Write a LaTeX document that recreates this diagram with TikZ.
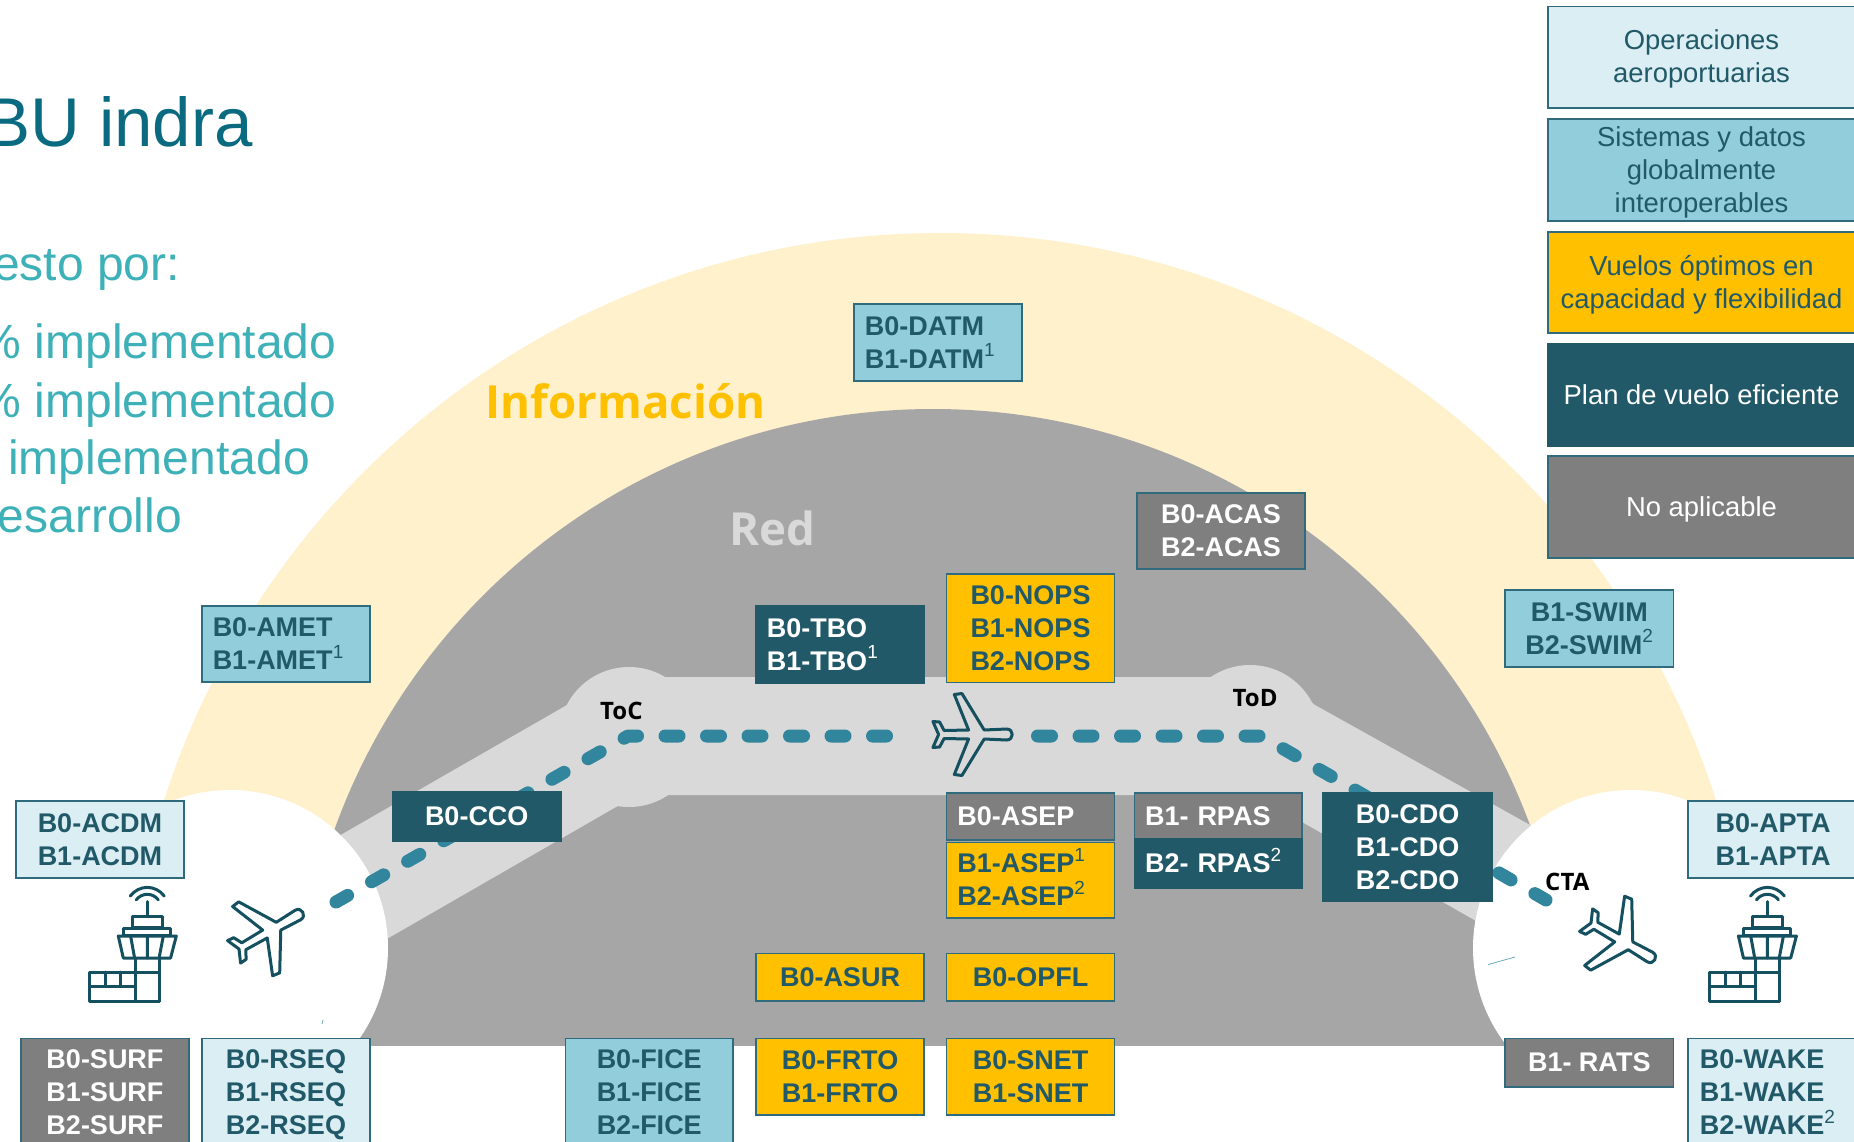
\documentclass[tikz,border=0pt]{standalone}
\usepackage{fontspec}
\setmainfont{Liberation Sans}
\newfontfamily\ofont{Open Sans}
\definecolor{cLight}{HTML}{DAEEF3}
\definecolor{cMid}{HTML}{92CDDC}
\definecolor{cAmber}{HTML}{FFC000}
\definecolor{cDark}{HTML}{215968}
\definecolor{cGray}{HTML}{7F7F7F}
\definecolor{cEdge}{HTML}{2F6B7C}
\definecolor{cYellowBg}{HTML}{FFF1CC}
\definecolor{cNet}{HTML}{A6A6A6}
\definecolor{cBand}{HTML}{D9D9D9}
\definecolor{cDash}{HTML}{31859C}
\definecolor{cTitle}{HTML}{0A6A80}
\definecolor{cTeal}{HTML}{3EB1B8}
\definecolor{cIcon}{HTML}{14505F}
\newcommand{\lblfont}{\fontsize{27}{33}\selectfont\bfseries}
\newcommand{\legfont}{\fontsize{27.4}{33}\selectfont}
\newcommand{\supn}[1]{\raisebox{0.42em}{\fontsize{19}{19}\selectfont\mdseries #1}}
\newcommand{\bx}[7]{%
  \pgfmathsetmacro{\bw}{#5-#3}%
  \pgfmathsetmacro{\bh}{#6-#4}%
  \node[#2, minimum width=\bw pt, minimum height=\bh pt] (#1) at ({(#3+#5)/2},{(#4+#6)/2}) {\rule{0pt}{26pt}#7\rule[-8pt]{0pt}{8pt}};}
\tikzset{
  basebox/.style={rectangle, draw=cEdge, line width=1.6pt, inner sep=0pt, outer sep=0pt, font=\lblfont, align=center},
  flushbox/.style={align=left, text width=146.5pt},
  bLight/.style={basebox, fill=cLight, text=cDark},
  bMid/.style={basebox, fill=cMid, text=cDark},
  bAmber/.style={basebox, fill=cAmber, text=cDark},
  bDark/.style={basebox, fill=cDark, draw=cDark, text=white},
  bGray/.style={basebox, fill=cGray, text=white},
  lg/.style={font=\legfont},
  flight/.style={cDash, line width=13pt, line cap=round, line join=round, dash pattern=on 14pt off 27.5pt},
  iconline/.style={draw=cIcon, line width=3pt, line join=round, line cap=round},
  bigteal/.style={font=\fontsize{48}{48}\selectfont, text=cTeal, inner sep=0pt, anchor=base east},
  area/.style={font=\ofont\fontsize{45.6}{46}\selectfont\bfseries, inner sep=0pt, anchor=base west},
  waypoint/.style={font=\ofont\fontsize{24}{24}\selectfont\bfseries, text=black, inner sep=0pt, anchor=base west},
  planeicon/.pic={
    \draw[iconline] (-30,0) -- (-35.7,-13) -- (-29,-12.5) -- (-24.5,-4) -- (0,-4.5) -- (-14.3,-40) -- (-6.7,-41) -- (15.6,-4.5) -- (38,-5.5) .. controls (45.5,-5.5) and (45.5,5.5) .. (38,5.5) -- (15.6,4.5) -- (-6.7,41) -- (-14.3,40) -- (0,4.5) -- (-24.5,4) -- (-29,12.5) -- (-35.7,13) -- cycle;
  },
  towericon/.pic={
    \draw[iconline] (-17,-105) .. controls (-8,-116.5) and (8,-116.5) .. (17,-105);
    \draw[iconline] (-11,-101.3) .. controls (-5,-108.5) and (5,-108.5) .. (11,-101.3);
    \draw[iconline] (0,-99.5) -- (0,-84.6);
    \draw[iconline] (-14.7,-73.5) rectangle (14.7,-84.6);
    \draw[iconline] (-23.7,-65.3) rectangle (22.9,-72.4);
    \draw[iconline] (-29,-65) -- (29,-65) -- (23.3,-43) -- (-24,-43) -- cycle;
    \draw[iconline] (-16.7,-65) -- (-12.7,-43) (0,-65) -- (0,-43) (16,-65) -- (11.8,-43);
    \draw[iconline] (-11.8,-43) -- (-11.8,0) (11.8,-43) -- (11.8,0);
    \draw[iconline] (-57.6,-29) rectangle (11.8,0);
    \draw[iconline] (-57.6,-14.8) -- (-11.8,-14.8) (-42,-29) -- (-42,-14.8) (-27,-29) -- (-27,-14.8);
  }
}
\begin{document}
\begin{tikzpicture}[x=1pt,y=-1pt]
\useasboundingbox (0,0) rectangle (1854,1142);
\clip (0,0) rectangle (1854,1142);
\fill[white] (0,0) rectangle (1854,1142);
% zones
\begin{scope}
  \clip (0,0) rectangle (1854,1045.5);
  \fill[cYellowBg] (940,1047) circle[radius=814];
  \fill[cNet] (933,1045) circle[radius=636];
\end{scope}
% trajectory band
\fill[cBand] (250,887) -- (567,705) -- (600,677) -- (1280,677) -- (1315,705) -- (1600,864) -- (1550,963) -- (1302,822) -- (1270,795) -- (640,795) -- (616,807) -- (300,989) -- cycle;
\fill[cBand] (629,737) circle[radius=70];
\fill[cBand] (1250,735) circle[radius=70];
% airports
\fill[white] (230,948) circle[radius=158];
\fill[white] (1631,948) circle[radius=158];
\draw[cDash!70!white, line width=0.8pt] (1488,964.6) -- (1515,957);
\draw[cDash!70!white, line width=0.8pt] (322,1024) -- (323,1020);
% flight path
\coordinate (fa) at (886.5,736);
\coordinate (fb) at (628,736);
\coordinate (fc) at (336,902);
\coordinate (fd) at (1037.5,736);
\coordinate (fe) at (1261,736);
\coordinate (ff) at (1546,900);
\draw[flight] (fa) -- (fb) -- (fc);
\draw[flight] (fd) -- (fe) -- (ff);
% icons
\pic (planeL) at (265,934) [rotate=30] {planeicon};
\pic (planeC) at (968.6,734.5) {planeicon};
\pic (planeR) at (1617,938) [rotate=-30] {planeicon};
\pic (towerL) at (147.3,1001) {towericon};
\pic (towerR) at (1767.4,1001) {towericon};
% texts
\node[font=\fontsize{69}{69}\selectfont, text=cTitle, inner sep=0pt, anchor=base east] (title) at (253,147) {BU indra};
\node[bigteal] (t1) at (180,280) {esto por:};
\node[bigteal] (t2) at (336.5,358) {\% implementado};
\node[bigteal] (t3) at (336.5,417) {\% implementado};
\node[bigteal] (t4) at (310,474) {implementado};
\node[bigteal] (t5) at (182,532) {esarrollo};
\node[area, text=cAmber] (info) at (485.5,418) {Información};
\node[area, text=cBand] (red) at (729,545) {Red};
\node[waypoint] (toc) at (600,719) {ToC};
\node[waypoint] (tod) at (1232.5,706.5) {ToD};
\node[waypoint] (cta) at (1545,890) {CTA};
% boxes
\bx{datm}{bMid,flushbox}{854}{304}{1022}{381}{B0-DATM\\B1-DATM\supn{1}}
\bx{acas}{bGray}{1137}{493}{1305}{569}{B0-ACAS\\B2-ACAS}
\bx{amet}{bMid,flushbox}{202}{606}{370}{682}{B0-AMET\\B1-AMET\supn{1}}
\bx{tbo}{bDark,flushbox}{756}{606}{924}{683}{B0-TBO\\B1-TBO\supn{1}}
\bx{nops}{bAmber}{946.5}{574}{1114.5}{682.5}{B0-NOPS\\B1-NOPS\\B2-NOPS}
\bx{swim}{bMid}{1505}{590}{1673.5}{667}{B1-SWIM\\B2-SWIM\supn{2}}
\bx{acdm}{bLight}{16}{801}{184}{878}{B0-ACDM\\B1-ACDM}
\bx{cco}{bDark}{392.5}{792}{561}{841}{B0-CCO}
\bx{asep}{bGray,flushbox}{946.5}{793}{1114.5}{840}{B0-ASEP}
\bx{asepb}{bAmber,flushbox}{946.5}{842.5}{1114.5}{918}{B1-ASEP\supn{1}\\B2-ASEP\supn{2}}
\bx{rpas}{bGray,flushbox}{1134.5}{793}{1302}{839}{B1- RPAS}
\bx{rpasb}{bDark,flushbox}{1134.5}{839}{1302}{888}{B2- RPAS\supn{2}}
\bx{cdo}{bDark}{1323}{793}{1492}{901.5}{B0-CDO\\B1-CDO\\B2-CDO}
\bx{apta}{bLight}{1688}{801}{1858}{878}{B0-APTA\\B1-APTA}
\bx{asur}{bAmber}{756}{953.5}{924}{1001}{B0-ASUR}
\bx{opfl}{bAmber}{946.5}{953.5}{1114.5}{1001}{B0-OPFL}
\bx{surf}{bGray}{21}{1038.5}{189}{1147}{B0-SURF\\B1-SURF\\B2-SURF}
\bx{rseq}{bLight}{202}{1038.5}{370}{1147}{B0-RSEQ\\B1-RSEQ\\B2-RSEQ}
\bx{fice}{bMid}{565.5}{1038.5}{733}{1147}{B0-FICE\\B1-FICE\\B2-FICE}
\bx{frto}{bAmber}{756}{1038.5}{924}{1115}{B0-FRTO\\B1-FRTO}
\bx{snet}{bAmber}{946.5}{1038.5}{1114.5}{1115}{B0-SNET\\B1-SNET}
\bx{rats}{bGray}{1505}{1038.5}{1673.5}{1087}{B1- RATS}
\bx{wake}{bLight,flushbox}{1688}{1038.5}{1858}{1147}{B0-WAKE\\B1-WAKE\\B2-WAKE\supn{2}}
% legend
\bx{lg1}{bLight,lg}{1548}{6.5}{1855}{108}{Operaciones\\aeroportuarias}
\bx{lg2}{bMid,lg}{1548}{119}{1855}{221}{Sistemas y datos\\globalmente\\interoperables}
\bx{lg3}{bAmber,lg}{1548}{232}{1855}{333}{Vuelos óptimos en\\capacidad y flexibilidad}
\bx{lg4}{bDark,lg}{1548}{344}{1855}{446}{Plan de vuelo eficiente}
\bx{lg5}{bGray,lg}{1548}{456}{1855}{558}{No aplicable}
\end{tikzpicture}
\end{document}
